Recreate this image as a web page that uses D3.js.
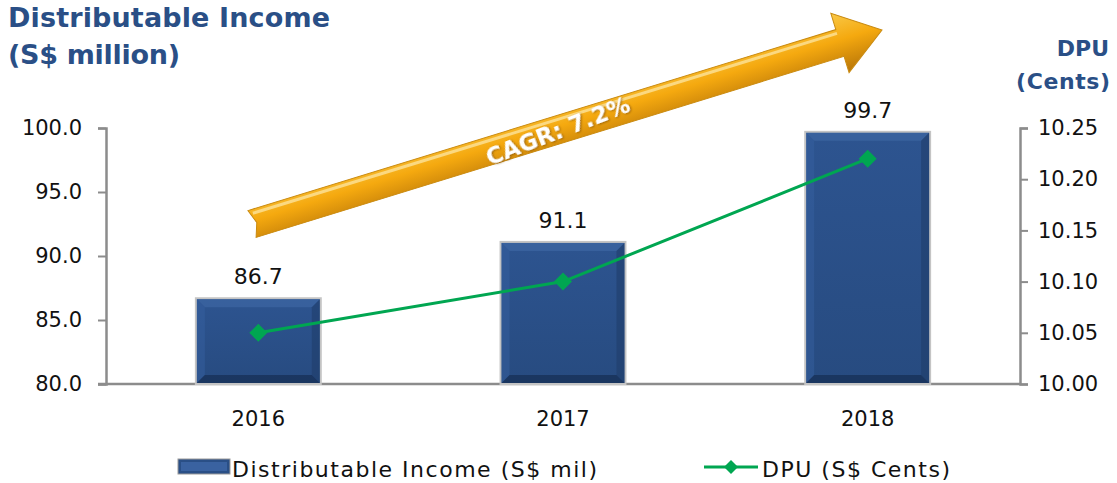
<!DOCTYPE html>
<html>
<head>
<meta charset="utf-8">
<script src="https://cdn.jsdelivr.net/npm/d3@7"></script>
<style>
  body { margin: 0; background: #fff; }
  svg { display: block; font-family: 'DejaVu Sans', sans-serif; }
</style>
</head>
<body>
<div class="chart"></div>
<script>
const years = ['2016', '2017', '2018'];
const income = [86.7, 91.1, 99.7];
const dpu = [10.05, 10.10, 10.22];
const incomeTicks = [80, 85, 90, 95, 100];
const dpuTicks = [10.00, 10.05, 10.10, 10.15, 10.20, 10.25];
const cagrLabel = 'CAGR: 7.2%';

const config = { width: 1117, height: 483, left: 106, right: 1020, top: 128, bottom: 384 };

const svg = d3.select('.chart').append('svg')
  .attr('width', config.width)
  .attr('height', config.height);

const defs = svg.append('defs');

const barGrad = defs.append('linearGradient').attr('id', 'barGrad')
  .attr('x1', 0).attr('y1', 0).attr('x2', 0).attr('y2', 1);
barGrad.append('stop').attr('offset', '0%').attr('stop-color', '#2d5490');
barGrad.append('stop').attr('offset', '100%').attr('stop-color', '#274b80');

const arrowGrad = defs.append('linearGradient').attr('id', 'arrowGrad')
  .attr('x1', 0).attr('y1', 0).attr('x2', 0).attr('y2', 1);
arrowGrad.append('stop').attr('offset', '0%').attr('stop-color', '#f9c847');
arrowGrad.append('stop').attr('offset', '45%').attr('stop-color', '#f5a90f');
arrowGrad.append('stop').attr('offset', '100%').attr('stop-color', '#b87508');

const shadow = defs.append('filter').attr('id', 'txtShadow');
shadow.append('feDropShadow').attr('dx', 1).attr('dy', 1).attr('stdDeviation', 0.8)
  .attr('flood-color', '#7a4a00').attr('flood-opacity', 0.7);

const x = d3.scaleBand().domain(years).range([config.left, config.right]).paddingInner(0.59).paddingOuter(0.295);
const yL = d3.scaleLinear().domain([80, 100]).range([config.bottom, config.top]);
const yR = d3.scaleLinear().domain([10.00, 10.25]).range([config.bottom, config.top]);

// titles
const titleColor = '#2a4f86';
svg.append('text').attr('x', 8).attr('y', 27).attr('font-size', 27).attr('font-weight', 700)
  .attr('fill', titleColor).attr('textLength', 322).text('Distributable Income');
svg.append('text').attr('x', 8).attr('y', 64).attr('font-size', 27).attr('font-weight', 700)
  .attr('fill', titleColor).attr('textLength', 172).text('(S$ million)');
svg.append('text').attr('x', 1109).attr('y', 56).attr('font-size', 22).attr('font-weight', 700)
  .attr('text-anchor', 'end').attr('fill', titleColor).text('DPU');
svg.append('text').attr('x', 1110).attr('y', 89).attr('font-size', 22).attr('font-weight', 700)
  .attr('text-anchor', 'end').attr('fill', titleColor).attr('textLength', 94).text('(Cents)');

// axes
const axisColor = '#8c8c8c';
const leftAxis = svg.append('g').attr('transform', `translate(${config.left},0)`)
  .call(d3.axisLeft(yL).tickValues(incomeTicks).tickFormat(d3.format('.1f')).tickSize(8).tickPadding(16));
const rightAxis = svg.append('g').attr('transform', `translate(${config.right},0)`)
  .call(d3.axisRight(yR).tickValues(dpuTicks).tickFormat(d3.format('.2f')).tickSize(8).tickPadding(10));
[leftAxis, rightAxis].forEach(a => {
  a.select('.domain').attr('stroke', axisColor).attr('stroke-width', 2.5);
  a.selectAll('.tick line').attr('stroke', axisColor).attr('stroke-width', 2);
  a.selectAll('.tick text').attr('font-size', 21).attr('fill', '#111')
    .attr('font-family', "'DejaVu Sans', sans-serif");
});

// baseline and year labels
const bottomAxis = svg.append('g').attr('transform', `translate(0,${config.bottom})`)
  .call(d3.axisBottom(x).tickSize(0).tickPadding(27));
bottomAxis.select('.domain').remove();
bottomAxis.selectAll('.tick text').attr('font-size', 21).attr('fill', '#111')
  .attr('font-family', "'DejaVu Sans', sans-serif");
svg.append('line').attr('x1', config.left - 8).attr('x2', config.right)
  .attr('y1', config.bottom).attr('y2', config.bottom)
  .attr('stroke', axisColor).attr('stroke-width', 2.5);

// bars
const bars = svg.append('g').selectAll('g').data(years).enter().append('g');
bars.each(function(d, i) {
  const g = d3.select(this);
  const x0 = x(d), w = x.bandwidth();
  const y0 = yL(income[i]), h = config.bottom - y0;
  const b = 9;
  g.append('rect').attr('x', x0).attr('y', y0).attr('width', w).attr('height', h)
    .attr('fill', 'url(#barGrad)').attr('stroke', '#c4c4c4').attr('stroke-width', 2);
  // bevel
  g.append('path').attr('fill', '#3d66a3').attr('opacity', 0.7)
    .attr('d', `M${x0 + 1},${y0 + 1}L${x0 + w - 1},${y0 + 1}L${x0 + w - b},${y0 + b}L${x0 + b},${y0 + b}Z`);
  g.append('path').attr('fill', '#3560a0').attr('opacity', 0.5)
    .attr('d', `M${x0 + 1},${y0 + 1}L${x0 + b},${y0 + b}L${x0 + b},${y0 + h - b}L${x0 + 1},${y0 + h - 1}Z`);
  g.append('path').attr('fill', '#1f3d6a').attr('opacity', 0.6)
    .attr('d', `M${x0 + w - 1},${y0 + 1}L${x0 + w - b},${y0 + b}L${x0 + w - b},${y0 + h - b}L${x0 + w - 1},${y0 + h - 1}Z`);
  g.append('path').attr('fill', '#172f55').attr('opacity', 0.75)
    .attr('d', `M${x0 + 1},${y0 + h - 1}L${x0 + b},${y0 + h - b}L${x0 + w - b},${y0 + h - b}L${x0 + w - 1},${y0 + h - 1}Z`);
  g.append('text').attr('x', x0 + w / 2).attr('y', y0 - 14).attr('text-anchor', 'middle')
    .attr('font-size', 22).attr('fill', '#111').text(income[i].toFixed(1));
});

// growth arrow
const ax0 = 252, ay0 = 224, ax1 = 882, ay1 = 30;
const ang = Math.atan2(ay1 - ay0, ax1 - ax0);
const len = Math.hypot(ax1 - ax0, ay1 - ay0);
const arrow = svg.append('g').attr('transform', `translate(${ax0},${ay0}) rotate(${ang * 180 / Math.PI})`);
const sw = 14, hw = 31, hl = 44;
arrow.append('path')
  .attr('d', `M0,${-sw}L${len - hl},${-sw}L${len - hl},${-hw}L${len},0L${len - hl},${hw}L${len - hl},${sw}L0,${sw}L5,0Z`)
  .attr('fill', 'url(#arrowGrad)').attr('stroke', '#c98a10').attr('stroke-width', 1);
arrow.append('path')
  .attr('d', `M4,${-sw + 4}L${len - hl},${-sw + 4}`)
  .attr('stroke', '#fde39a').attr('stroke-width', 3).attr('opacity', 0.8);
arrow.append('text').attr('x', len * 0.5 - 10).attr('y', 9)
  .attr('text-anchor', 'middle').attr('transform', `rotate(-4, ${len * 0.5 - 10}, 0)`)
  .attr('font-size', 23).attr('font-weight', 700).attr('fill', '#fff')
  .attr('filter', 'url(#txtShadow)').text(cagrLabel);

// DPU line
const line = d3.line().x((d, i) => x(years[i]) + x.bandwidth() / 2).y(d => yR(d));
svg.append('path').datum(dpu).attr('d', line).attr('fill', 'none')
  .attr('stroke', '#00a651').attr('stroke-width', 3);
svg.append('g').selectAll('path').data(dpu).enter().append('path')
  .attr('transform', (d, i) => `translate(${x(years[i]) + x.bandwidth() / 2},${yR(d)})`)
  .attr('d', 'M0,-9L9,0L0,9L-9,0Z').attr('fill', '#00a651');

// legend
const legend = svg.append('g');
legend.append('rect').attr('x', 178).attr('y', 459).attr('width', 52).attr('height', 15)
  .attr('fill', '#2a4f86').attr('stroke', '#9a9a9a').attr('stroke-width', 1);
legend.append('rect').attr('x', 181).attr('y', 462).attr('width', 46).attr('height', 9)
  .attr('fill', '#3a62a0');
legend.append('text').attr('x', 232).attr('y', 477).attr('font-size', 22).attr('fill', '#111')
  .attr('textLength', 365).text('Distributable Income (S$ mil)');
legend.append('line').attr('x1', 704).attr('x2', 758).attr('y1', 467).attr('y2', 467)
  .attr('stroke', '#00a651').attr('stroke-width', 3);
legend.append('path').attr('transform', 'translate(731,467)').attr('d', 'M0,-7L7,0L0,7L-7,0Z')
  .attr('fill', '#00a651');
legend.append('text').attr('x', 762).attr('y', 477).attr('font-size', 22).attr('fill', '#111')
  .attr('textLength', 188).text('DPU (S$ Cents)');
</script>
</body>
</html>
